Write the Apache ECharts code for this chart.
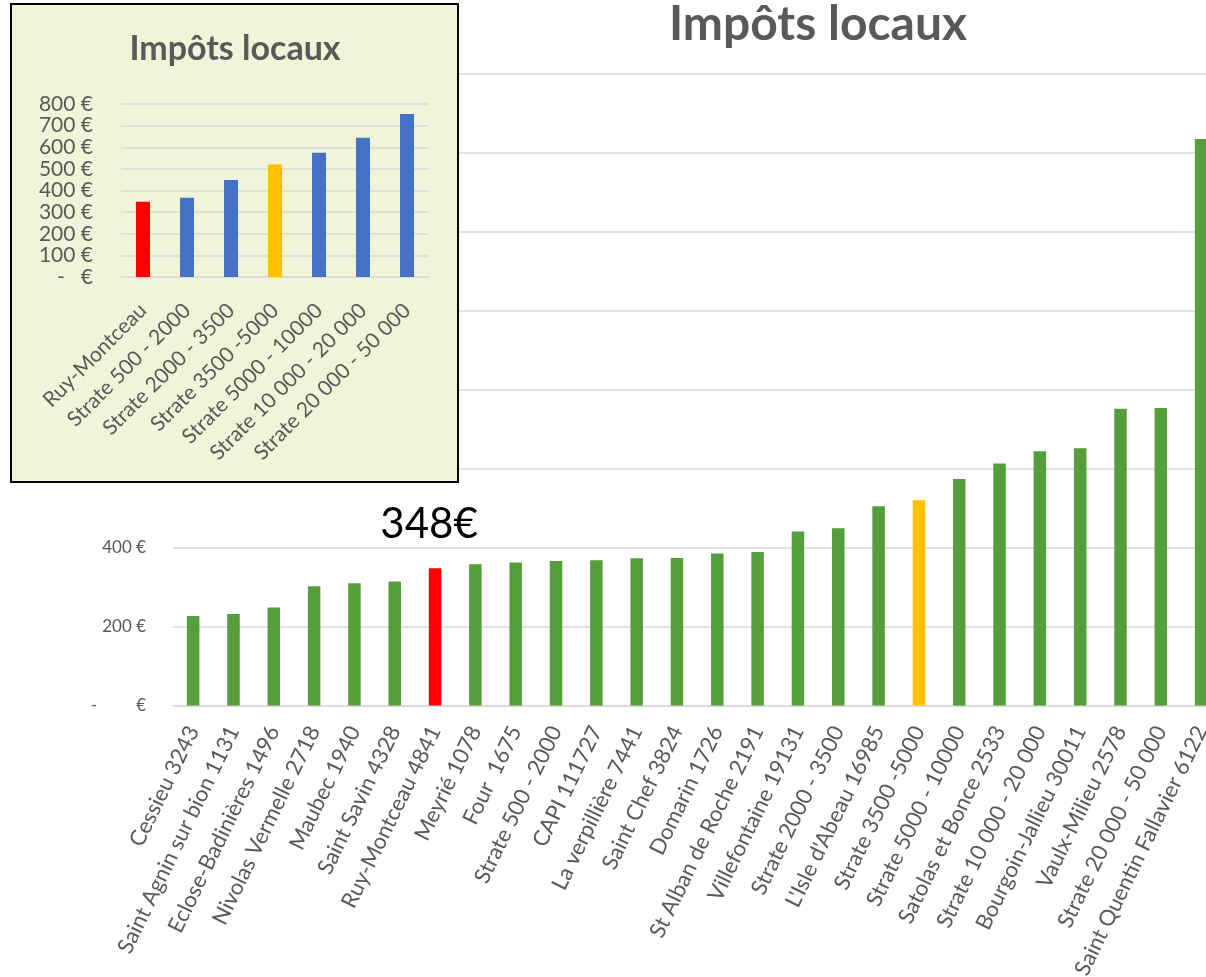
<!DOCTYPE html>
<html>
<head>
<meta charset="utf-8">
<script src="https://cdn.jsdelivr.net/npm/echarts@6/dist/echarts.min.js"></script>
<style>
  html, body { margin: 0; padding: 0; overflow: hidden; background: #fff; }
  #mainChart { position: absolute; left: 0; top: 0; width: 1260px; height: 977px; }
  #insetChart { position: absolute; left: 10px; top: 3px; width: 449px; height: 480px;
    box-sizing: border-box; border: 2px solid #000; background: #f1f4d9; }
</style>
</head>
<body>
<div id="mainChart"></div>
<div id="insetChart"></div>
<script>
// communes et strates (graphique principal)
var communes = ['Cessieu 3243', 'Saint Agnin sur bion 1131', 'Eclose-Badinières 1496', 'Nivolas Vermelle 2718',
  'Maubec 1940', 'Saint Savin 4328', 'Ruy-Montceau 4841', 'Meyrié 1078', 'Four  1675', 'Strate 500 - 2000',
  'CAPI 111727', 'La verpillière 7441', 'Saint Chef 3824', 'Domarin 1726', 'St Alban de Roche 2191',
  'Villefontaine 19131', 'Strate 2000 - 3500', "L'Isle d'Abeau 16985", 'Strate 3500 -5000', 'Strate 5000 - 10000',
  'Satolas et Bonce 2533', 'Strate 10 000 - 20 000', 'Bourgoin-Jallieu 30011', 'Vaulx-Milieu 2578',
  'Strate 20 000 - 50 000', 'Saint Quentin Fallavier 6122'];
var impots = [227, 232, 248, 302, 310, 314, 348, 358, 362, 366, 368, 373, 374, 385, 389,
  441, 449, 505, 520, 574, 613, 644, 652, 752, 754, 1435];

// encart : Ruy-Montceau vs strates
var strates = ['Ruy-Montceau', 'Strate 500 - 2000', 'Strate 2000 - 3500', 'Strate 3500 -5000',
  'Strate 5000 - 10000', 'Strate 10 000 - 20 000', 'Strate 20 000 - 50 000'];
var impotsStrates = [348, 366, 449, 520, 574, 644, 754];

var titre = 'Impôts locaux';
var commune = 'Ruy-Montceau';
var strateCommune = 'Strate 3500 -5000';

function euro(zero) {
  return function (v) { return v === 0 ? zero : v + ' €'; };
}
function couleur(nom, base) {
  if (nom.indexOf(commune) === 0) return '#ff0000';
  if (nom === strateCommune) return '#ffc000';
  return base;
}

//graphique principal
var mainChart = echarts.init(document.getElementById('mainChart'));
mainChart.setOption({
  animation: false,
  graphic: [{
    type: 'text', x: 818, y: 1,
    style: { text: titre, textAlign: 'center', fill: '#595959',
      font: 'bold 48px Lato' }
  }],
  grid: { left: 173, top: 74, width: 1048.3, height: 631.5, outerBoundsMode: 'none' },
  xAxis: {
    type: 'category',
    data: communes,
    axisTick: { show: false },
    axisLine: { lineStyle: { color: '#d9d9d9', width: 1.5 } },
    axisLabel: { rotate: 64, interval: 0, fontSize: 22, color: '#595959',
      fontFamily: 'Lato', margin: 22 }
  },
  yAxis: {
    type: 'value', min: 0, max: 1600, interval: 200,
    axisLine: { show: false },
    splitLine: { lineStyle: { color: '#d9d9d9', width: 1.5 } },
    axisLabel: { formatter: euro('-         €'), fontSize: 17, color: '#595959', fontFamily: 'Lato', margin: 27 }
  },
  series: [{
    type: 'bar',
    barWidth: 12.5,
    data: impots.map(function (v, i) {
      var item = { value: v, itemStyle: { color: couleur(communes[i], '#559e3b') } };
      if (communes[i].indexOf(commune) === 0) {
        item.label = { show: true, position: 'top', distance: 23, offset: [-6, 0],
          formatter: '{c}€', fontSize: 42, color: '#000', fontFamily: 'Lato' };
      }
      return item;
    })
  }]
});

//encart
var insetChart = echarts.init(document.getElementById('insetChart'));
insetChart.setOption({
  animation: false,
  graphic: [{
    type: 'text', x: 223, y: 27,
    style: { text: titre, textAlign: 'center', fill: '#595959',
      font: 'bold 34px Lato' }
  }],
  grid: { left: 109, top: 99, width: 308, height: 173, outerBoundsMode: 'none' },
  xAxis: {
    type: 'category',
    data: strates,
    axisTick: { show: false },
    axisLine: { lineStyle: { color: '#d9d9d9', width: 1.5 } },
    axisLabel: { rotate: 45, interval: 0, fontSize: 21, color: '#595959',
      fontFamily: 'Lato', margin: 30 }
  },
  yAxis: {
    type: 'value', min: 0, max: 800, interval: 100,
    axisLine: { show: false },
    splitLine: { lineStyle: { color: '#d9d9d9', width: 1.5 } },
    axisLabel: { formatter: euro('-   €'), fontSize: 21, color: '#595959', fontFamily: 'Lato', margin: 28 }
  },
  series: [{
    type: 'bar',
    barWidth: 14,
    data: impotsStrates.map(function (v, i) {
      return { value: v, itemStyle: { color: couleur(strates[i], '#4472c4') } };
    })
  }]
});
</script>
</body>
</html>
